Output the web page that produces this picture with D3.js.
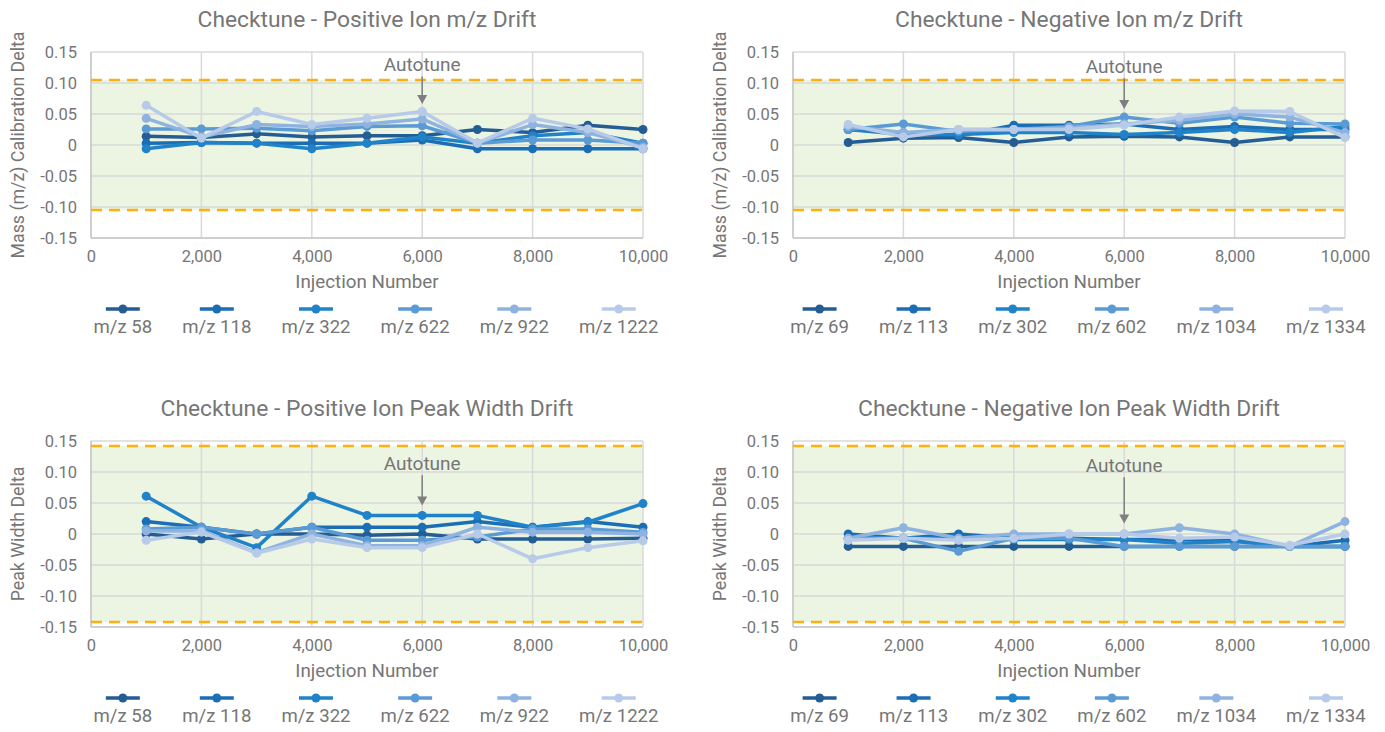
<!DOCTYPE html>
<html>
<head>
<meta charset="utf-8">
<script src="https://cdn.jsdelivr.net/npm/d3@7"></script>
<style>
  body { margin: 0; background: #fff; }
  text { font-family: Roboto, "Noto Sans", sans-serif; fill: #767676; }
</style>
</head>
<body>
<div id="viz"></div>
<script>
// injection numbers where checktune was run
const injections = [1000, 2000, 3000, 4000, 5000, 6000, 7000, 8000, 9000, 10000];
const xTicks = [0, 2000, 4000, 6000, 8000, 10000];
const yTicks = [-0.15, -0.10, -0.05, 0, 0.05, 0.10, 0.15];

const posIons = ['m/z 58', 'm/z 118', 'm/z 322', 'm/z 622', 'm/z 922', 'm/z 1222'];
const negIons = ['m/z 69', 'm/z 113', 'm/z 302', 'm/z 602', 'm/z 1034', 'm/z 1334'];
const ionColors = ['#245d93', '#1b6db6', '#2082c8', '#5b9bd5', '#8fb3e0', '#b7cbe9'];

const posMzDrift = [
    [0.014, 0.012, 0.018, 0.013, 0.015, 0.015, 0.025, 0.020, 0.032, 0.025],
    [0.003, 0.004, 0.003, 0.003, 0.003, 0.008, -0.006, -0.006, -0.006, -0.006],
    [-0.006, 0.004, 0.003, -0.006, 0.003, 0.013, 0.003, 0.015, 0.020, 0.003],
    [0.026, 0.026, 0.027, 0.023, 0.030, 0.031, 0.003, 0.008, 0.008, 0.003],
    [0.043, 0.013, 0.033, 0.030, 0.034, 0.042, 0.003, 0.033, 0.020, -0.004],
    [0.064, 0.011, 0.054, 0.033, 0.043, 0.054, 0.003, 0.043, 0.026, -0.006]
];
const negMzDrift = [
    [0.004, 0.011, 0.012, 0.004, 0.013, 0.014, 0.013, 0.004, 0.013, 0.013],
    [0.025, 0.020, 0.015, 0.032, 0.032, 0.034, 0.025, 0.030, 0.025, 0.025],
    [0.025, 0.017, 0.017, 0.020, 0.020, 0.017, 0.020, 0.025, 0.020, 0.030],
    [0.025, 0.034, 0.022, 0.025, 0.030, 0.045, 0.035, 0.045, 0.035, 0.034],
    [0.030, 0.020, 0.025, 0.025, 0.028, 0.034, 0.040, 0.050, 0.045, 0.020],
    [0.033, 0.013, 0.025, 0.025, 0.025, 0.032, 0.045, 0.055, 0.054, 0.012]
];
const posWidthDrift = [
    [0.000, -0.008, 0.000, 0.000, -0.002, 0.000, -0.008, -0.008, -0.008, -0.007],
    [0.020, 0.011, 0.000, 0.011, 0.011, 0.011, 0.020, 0.011, 0.020, 0.011],
    [0.061, 0.011, -0.022, 0.061, 0.030, 0.030, 0.030, 0.011, 0.019, 0.049],
    [0.008, 0.011, 0.000, 0.011, -0.010, -0.010, -0.005, 0.008, 0.008, 0.003],
    [0.005, 0.005, -0.030, 0.000, -0.019, -0.019, 0.011, 0.003, 0.003, 0.000],
    [-0.010, 0.003, -0.031, -0.008, -0.022, -0.022, 0.000, -0.040, -0.022, -0.011]
];
const negWidthDrift = [
    [-0.020, -0.020, -0.020, -0.020, -0.020, -0.020, -0.020, -0.020, -0.020, -0.020],
    [0.000, -0.007, 0.000, -0.007, -0.007, -0.009, -0.009, -0.009, -0.020, -0.010],
    [-0.007, -0.007, -0.007, -0.009, -0.009, -0.009, -0.015, -0.012, -0.020, -0.020],
    [-0.007, -0.007, -0.028, -0.007, -0.007, -0.020, -0.020, -0.020, -0.020, -0.020],
    [-0.007, 0.010, -0.007, 0.000, 0.000, 0.000, 0.010, 0.000, -0.020, 0.020],
    [-0.010, -0.007, -0.010, -0.007, 0.000, 0.000, -0.007, -0.005, -0.018, 0.000]
];

const mzLimit = 0.105;
const widthLimit = 0.142;
const autotuneAt = 6000;

const charts = [
    { title: 'Checktune - Positive Ion m/z Drift', yTitle: 'Mass (m/z) Calibration Delta',
      ions: posIons, values: posMzDrift, limit: mzLimit, labelY: 0.130, tipY: 0.066,
      left: 91, top: 52 },
    { title: 'Checktune - Negative Ion m/z Drift', yTitle: 'Mass (m/z) Calibration Delta',
      ions: negIons, values: negMzDrift, limit: mzLimit, labelY: 0.127, tipY: 0.058,
      left: 793, top: 52 },
    { title: 'Checktune - Positive Ion Peak Width Drift', yTitle: 'Peak Width Delta',
      ions: posIons, values: posWidthDrift, limit: widthLimit, labelY: 0.114, tipY: 0.046,
      left: 91, top: 441 },
    { title: 'Checktune - Negative Ion Peak Width Drift', yTitle: 'Peak Width Delta',
      ions: negIons, values: negWidthDrift, limit: widthLimit, labelY: 0.111, tipY: 0.017,
      left: 793, top: 441 }
];

const plotW = 552;
const plotH = 186;

let svg = d3.select('#viz')
            .append('svg')
            .attr('width', 1385)
            .attr('height', 732);

charts.forEach(drawChart);

function drawChart(c) {
    let g = svg.append('g').attr('transform', `translate(${c.left}, ${c.top})`);
    let x = d3.scaleLinear().domain([0, 10000]).range([0, plotW]);
    let y = d3.scaleLinear().domain([-0.15, 0.15]).range([plotH, 0]);

    // green acceptable band
    g.append('rect')
     .attr('x', 0)
     .attr('width', plotW)
     .attr('y', y(c.limit))
     .attr('height', y(-c.limit) - y(c.limit))
     .attr('fill', '#ecf4e2');

    // gridlines
    g.selectAll('.hgrid')
     .data(yTicks)
     .enter()
     .append('line')
     .attr('x1', 0).attr('x2', plotW)
     .attr('y1', d => y(d)).attr('y2', d => y(d))
     .attr('stroke', '#d9d9d9')
     .attr('stroke-width', 1.5);
    g.selectAll('.vgrid')
     .data(xTicks)
     .enter()
     .append('line')
     .attr('x1', d => x(d)).attr('x2', d => x(d))
     .attr('y1', 0).attr('y2', plotH)
     .attr('stroke', '#d9d9d9')
     .attr('stroke-width', 1.5);
    g.append('line')
     .attr('x1', 0).attr('x2', plotW).attr('y1', plotH).attr('y2', plotH)
     .attr('stroke', '#c8c8c8').attr('stroke-width', 1.5);
    g.append('line')
     .attr('x1', 0).attr('x2', 0).attr('y1', 0).attr('y2', plotH)
     .attr('stroke', '#c8c8c8').attr('stroke-width', 1.5);

    // limit lines
    [c.limit, -c.limit].forEach(v => {
        g.append('line')
         .attr('x1', 0).attr('x2', plotW)
         .attr('y1', y(v)).attr('y2', y(v))
         .attr('stroke', '#ffb00f')
         .attr('stroke-width', 2.5)
         .attr('stroke-dasharray', '11,7');
    });

    // axes labels
    let yAxis = d3.axisLeft(y).tickValues(yTicks).tickSize(0).tickPadding(14)
                  .tickFormat(d => d === 0 ? '0' : d.toFixed(2));
    let xAxis = d3.axisBottom(x).tickValues(xTicks).tickSize(0).tickPadding(12)
                  .tickFormat(d3.format(','));
    let ya = g.append('g').call(yAxis);
    let xa = g.append('g').attr('transform', `translate(0, ${plotH})`).call(xAxis);
    [ya, xa].forEach(a => {
        a.select('.domain').remove();
        a.selectAll('text').attr('font-size', 16.5).attr('fill', '#767676')
         .attr('font-family', 'Roboto, sans-serif');
    });

    g.append('text')
     .attr('x', plotW / 2)
     .attr('y', -25)
     .attr('text-anchor', 'middle')
     .attr('font-size', 22.8)
     .text(c.title);
    g.append('text')
     .attr('x', plotW / 2)
     .attr('y', plotH + 50)
     .attr('text-anchor', 'middle')
     .attr('font-size', 18.8)
     .text('Injection Number');
    g.append('text')
     .attr('transform', `translate(-67, ${plotH / 2}) rotate(-90)`)
     .attr('text-anchor', 'middle')
     .attr('font-size', 17.8)
     .text(c.yTitle);

    // series
    let line = d3.line().x((d, i) => x(injections[i])).y(d => y(d));
    c.values.forEach((vals, k) => {
        g.append('path')
         .datum(vals)
         .attr('d', line)
         .attr('fill', 'none')
         .attr('stroke', ionColors[k])
         .attr('stroke-width', 3.5)
         .attr('stroke-linejoin', 'round');
        g.selectAll('.dot' + k)
         .data(vals)
         .enter()
         .append('circle')
         .attr('cx', (d, i) => x(injections[i]))
         .attr('cy', d => y(d))
         .attr('r', 4.5)
         .attr('fill', ionColors[k]);
    });

    // autotune annotation
    let ax = x(autotuneAt);
    g.append('text')
     .attr('x', ax)
     .attr('y', y(c.labelY) + 7)
     .attr('text-anchor', 'middle')
     .attr('font-size', 19)
     .text('Autotune');
    g.append('line')
     .attr('x1', ax).attr('x2', ax)
     .attr('y1', y(c.labelY) + 12).attr('y2', y(c.tipY) - 8)
     .attr('stroke', '#7f7f7f').attr('stroke-width', 1.5);
    g.append('path')
     .attr('d', `M${ax - 5},${y(c.tipY) - 9} L${ax + 5},${y(c.tipY) - 9} L${ax},${y(c.tipY)} Z`)
     .attr('fill', '#7f7f7f');

    // legend
    let leg = g.append('g').attr('transform', `translate(0, ${plotH + 71})`);
    let items = leg.selectAll('g')
                   .data(c.ions)
                   .enter()
                   .append('g');
    items.append('text')
         .attr('y', 24)
         .attr('text-anchor', 'middle')
         .attr('font-size', 18.6)
         .text(d => d);
    let widths = [];
    items.select('text').each(function() { widths.push(this.getComputedTextLength()); });
    const gap = 30;
    let total = d3.sum(widths) + gap * (widths.length - 1);
    let pos = plotW / 2 + 9 - total / 2;
    let centers = widths.map(w => { let cx = pos + w / 2; pos += w + gap; return cx; });
    items.attr('transform', (d, i) => `translate(${centers[i]}, 0)`);
    items.append('line')
         .attr('x1', -17).attr('x2', 17)
         .attr('stroke', (d, i) => ionColors[i])
         .attr('stroke-width', 3.5);
    items.append('circle')
         .attr('r', 4.5)
         .attr('fill', (d, i) => ionColors[i]);
}
</script>
</body>
</html>
